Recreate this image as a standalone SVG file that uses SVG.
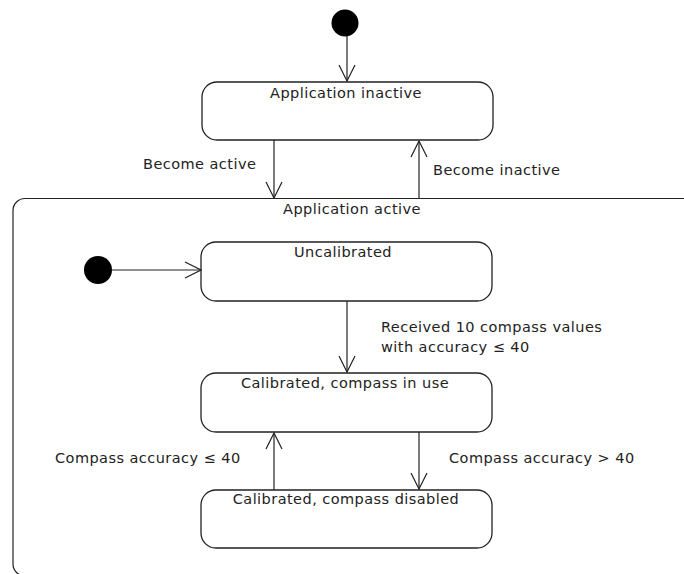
<svg xmlns="http://www.w3.org/2000/svg" width="684" height="574" viewBox="0 0 684 574">
  <defs>
    <style>
      .state { fill: #ffffff; stroke: #222222; stroke-width: 1.3; }
      .edge { fill: none; stroke: #222222; stroke-width: 1.2; }
      .init { fill: #000000; }
      text { font-family: "DejaVu Sans", "Liberation Sans", sans-serif; font-size: 14.5px; letter-spacing: 0.45px; fill: #222222; }
      .mid { text-anchor: middle; }
    </style>
    <marker id="open" viewBox="0 0 18 18" refX="17" refY="9" markerWidth="18" markerHeight="18" markerUnits="userSpaceOnUse" orient="auto">
      <path d="M1,1 L17,9 L1,17" fill="none" stroke="#222222" stroke-width="1.2"/>
    </marker>
  </defs>
  <rect width="684" height="574" fill="#ffffff"/>

  <!-- composite state: Application active -->
  <g id="app-active">
    <path class="edge" d="M684,198.5 H25 A12,12 0 0 0 13,210.5 V564 A12,12 0 0 0 25,576 H684" stroke-width="1.3"/>
    <text class="mid" x="352" y="214">Application active</text>
  </g>

  <g id="init-top">
    <circle class="init" cx="345" cy="23" r="13.5"/>
  </g>

  <g id="app-inactive">
    <rect class="state" x="202" y="82" width="291" height="58" rx="15"/>
    <text class="mid" x="346" y="98">Application inactive</text>
  </g>

  <g id="init-inner">
    <circle class="init" cx="98" cy="270" r="14"/>
  </g>

  <g id="uncalibrated">
    <rect class="state" x="201" y="242" width="291" height="59" rx="15"/>
    <text class="mid" x="343" y="257">Uncalibrated</text>
  </g>

  <g id="calibrated-in-use">
    <rect class="state" x="201" y="373" width="291" height="59" rx="15"/>
    <text class="mid" x="345" y="388">Calibrated, compass in use</text>
  </g>

  <g id="calibrated-disabled">
    <rect class="state" x="201" y="490" width="291" height="58" rx="15"/>
    <text class="mid" x="346" y="504">Calibrated,  compass disabled</text>
  </g>

  <g id="connectors">
    <line class="edge" x1="347" y1="36" x2="347" y2="81" marker-end="url(#open)"/>
    <line class="edge" x1="274" y1="140" x2="274" y2="198" marker-end="url(#open)"/>
    <line class="edge" x1="419" y1="198" x2="419" y2="141" marker-end="url(#open)"/>
    <line class="edge" x1="112" y1="270" x2="201" y2="270" marker-end="url(#open)"/>
    <line class="edge" x1="347" y1="301" x2="347" y2="372" marker-end="url(#open)"/>
    <line class="edge" x1="274" y1="490" x2="274" y2="433" marker-end="url(#open)"/>
    <line class="edge" x1="419" y1="432" x2="419" y2="489" marker-end="url(#open)"/>

    <text x="143" y="169">Become active</text>
    <text x="433" y="175">Become inactive</text>
    <text x="381" y="332">Received 10 compass values</text>
    <text x="381" y="352">with accuracy ≤ 40</text>
    <text x="55" y="463">Compass accuracy ≤ 40</text>
    <text x="449" y="463">Compass accuracy &gt; 40</text>
  </g>
</svg>
